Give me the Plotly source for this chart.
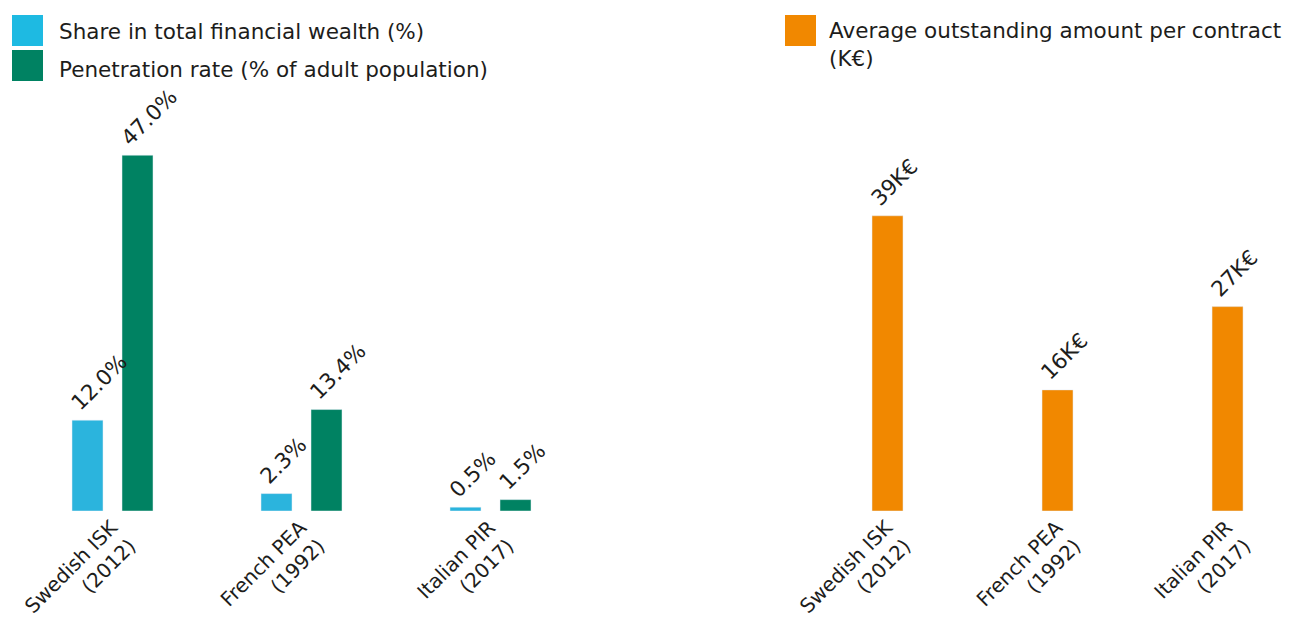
import plotly.graph_objects as go

# Savings schemes compared
schemes = ["Swedish ISK<br>(2012)", "French PEA<br>(1992)", "Italian PIR<br>(2017)"]

# Left panel series (%)
share_wealth = [12.0, 2.3, 0.5]
penetration = [47.0, 13.4, 1.5]

# Right panel series (K€)
avg_amount = [39, 16, 27]

share_labels = ["12.0%", "2.3%", "0.5%"]
penetration_labels = ["47.0%", "13.4%", "1.5%"]
amount_labels = ["39K€", "16K€", "27K€"]

W, H = 1293, 621
FONT = "DejaVu Sans"
FS = 21.5
TICK_FS = 20
TXT = "#1d1d1b"
BLUE = "#2bb4dd"
BLUE_KEY = "#1ebae2"
GREEN = "#008262"
ORANGE = "#f18800"


def px_x(p):
    return p / W


def px_y(p):
    return 1 - p / H


# bar geometry (category units)
L_BAR_W = 31 / 189
L_OFF_A = -40.5 / 189
L_OFF_B = 9.5 / 189
R_BAR_W = 31 / 170
R_OFF = -15.5 / 170

fig = go.Figure()
fig.add_trace(go.Bar(x=schemes, y=share_wealth, marker_color=BLUE,
                     width=L_BAR_W, offset=L_OFF_A, xaxis="x", yaxis="y",
                     hoverinfo="skip"))
fig.add_trace(go.Bar(x=schemes, y=penetration, marker_color=GREEN,
                     width=L_BAR_W, offset=L_OFF_B, xaxis="x", yaxis="y",
                     hoverinfo="skip"))
fig.add_trace(go.Bar(x=schemes, y=avg_amount, marker_color=ORANGE,
                     width=R_BAR_W, offset=R_OFF, xaxis="x2", yaxis="y2",
                     hoverinfo="skip"))

annotations = []


def value_label(i, off, val, text, xref, yref):
    annotations.append(dict(
        x=i + off, y=val, xref=xref, yref=yref, text=text,
        textangle=-45, showarrow=False, xanchor="left", yanchor="bottom",
        xshift=-9, yshift=2,
        font=dict(family=FONT, size=FS, color=TXT)))


for i in range(len(schemes)):
    value_label(i, L_OFF_A, share_wealth[i], share_labels[i], "x", "y")
    value_label(i, L_OFF_B, penetration[i], penetration_labels[i], "x", "y")
    value_label(i, R_OFF, avg_amount[i], amount_labels[i], "x2", "y2")

# legend keys
shapes = []
keys = [
    (12, 15, BLUE_KEY, 57, 31, "Share in total financial wealth (%)"),
    (12, 50, GREEN, 57, 69, "Penetration rate (% of adult population)"),
    (785, 15, ORANGE, 830, 31, None),
]
for x0, y0, col, tx, ty, label in keys:
    shapes.append(dict(type="rect", xref="paper", yref="paper",
                       x0=px_x(x0), x1=px_x(x0 + 31), y0=px_y(y0), y1=px_y(y0 + 31),
                       fillcolor=col, line=dict(width=0)))
    if label:
        annotations.append(dict(x=px_x(tx), y=px_y(ty), xref="paper", yref="paper",
                                text=label, showarrow=False, xanchor="left",
                                yanchor="middle",
                                font=dict(family=FONT, size=FS, color=TXT)))
annotations.append(dict(x=px_x(827), y=px_y(16), xref="paper", yref="paper",
                        text="Average outstanding amount per contract<br>(K€)",
                        showarrow=False, xanchor="left", yanchor="top", align="left",
                        font=dict(family=FONT, size=FS, color=TXT)))

y_dom = [(H - 511) / H, (H - 100) / H]
y_rng = [0, 411 / 7.57]
axis_common = dict(showgrid=False, zeroline=False, showline=False, ticks="",
                   automargin=False, fixedrange=True)
tick_style = dict(tickangle=-45, tickfont=dict(family=FONT, size=TICK_FS, color=TXT),
                  ticklabelshift=-1, ticklabelstandoff=0)

fig.update_layout(
    width=W, height=H,
    margin=dict(l=0, r=0, t=0, b=0),
    paper_bgcolor="white", plot_bgcolor="white",
    showlegend=False, barmode="overlay",
    font=dict(family=FONT, size=FS, color=TXT),
    xaxis=dict(domain=[px_x(18), px_x(585)], range=[-0.5, 2.5], type="category",
               anchor="y", **tick_style, **axis_common),
    yaxis=dict(domain=y_dom, range=y_rng, showticklabels=False, anchor="x",
               **axis_common),
    xaxis2=dict(domain=[px_x(802.5), 1], range=[-0.5, 2.385], type="category",
                anchor="y2", **tick_style, **axis_common),
    yaxis2=dict(domain=y_dom, range=y_rng, showticklabels=False, anchor="x2",
                **axis_common),
    shapes=shapes,
    annotations=annotations,
)

fig.write_html("out.html")
